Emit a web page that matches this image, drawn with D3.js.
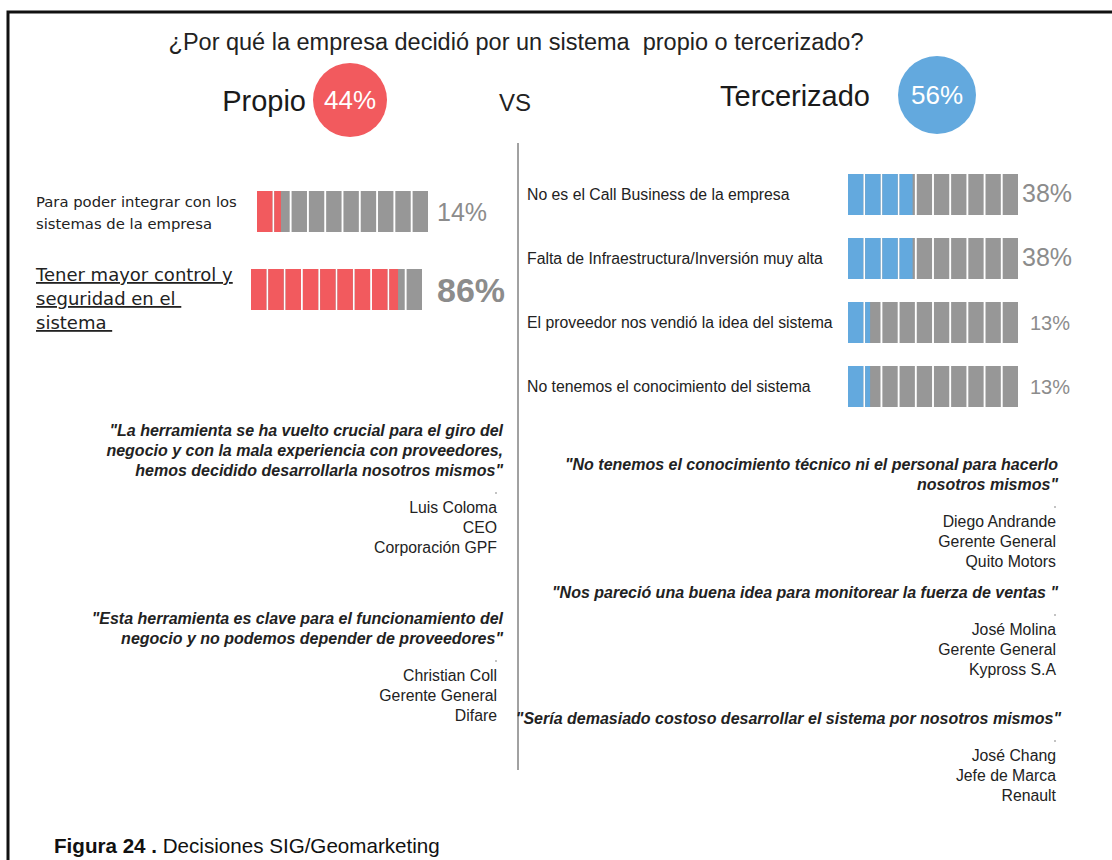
<!DOCTYPE html>
<html>
<head>
<meta charset="utf-8">
<script src="https://cdn.jsdelivr.net/npm/d3@7"></script>
<style>
  html, body { margin: 0; padding: 0; background: #fff; }
  svg { display: block; }
</style>
</head>
<body>
<svg id="chart" width="1112" height="860"></svg>
<script>
// ---- data ----
const titleText = "¿Por qué la empresa decidió por un sistema  propio o tercerizado?";
const sideNames = ["Propio", "Tercerizado"];
const sideShares = [44, 56];

const propioReasons = [
  ["Para poder integrar con los", "sistemas de la empresa"],
  ["Tener mayor control y", "seguridad en el ", "sistema "]
];
const propioValues = [14, 86];

const tercerReasons = [
  "No es el Call Business de la empresa",
  "Falta de Infraestructura/Inversión muy alta",
  "El proveedor nos vendió la idea del sistema",
  "No tenemos el conocimiento del sistema"
];
const tercerValues = [38, 38, 13, 13];

const segmentCount = 10;

const propioQuotes = [
  { lines: ["\"La herramienta se ha vuelto crucial para el giro del",
            "negocio y con la mala experiencia con proveedores,",
            "hemos decidido desarrollarla nosotros mismos\""],
    person: ["Luis Coloma", "CEO", "Corporación GPF"] },
  { lines: ["\"Esta herramienta es clave para el funcionamiento del",
            "negocio y no podemos depender de proveedores\""],
    person: ["Christian Coll", "Gerente General", "Difare"] }
];
const tercerQuotes = [
  { lines: ["\"No tenemos el conocimiento técnico ni el personal para hacerlo",
            "nosotros mismos\""],
    person: ["Diego Andrande", "Gerente General", "Quito Motors"] },
  { lines: ["\"Nos pareció una buena idea para monitorear la fuerza de ventas \""],
    person: ["José Molina", "Gerente General", "Kypross S.A"] },
  { lines: ["\"Sería demasiado costoso desarrollar el sistema por nosotros mismos\""],
    person: ["José Chang", "Jefe de Marca", "Renault"] }
];

const captionBold = "Figura 24 .";
const captionText = " Decisiones SIG/Geomarketing";

// ---- styles ----
const RED = "#f25a5e";
const BLUE = "#63a9de";
const GRAY = "#979797";
const PCT_GRAY = "#8c8c8c";
const SANS = "'Liberation Sans', Arial, Helvetica, sans-serif";
const WIDE = "'DejaVu Sans', Verdana, sans-serif";

const svg = d3.select("#chart");

// frame (open to the right and bottom)
svg.append("path")
  .attr("d", "M8,860 V12 H1112")
  .attr("fill", "none").attr("stroke", "#111").attr("stroke-width", 3);

// title
svg.append("text")
  .attr("x", 516).attr("y", 50)
  .attr("text-anchor", "middle")
  .attr("font-family", SANS).attr("font-size", 23.5).attr("fill", "#222")
  .style("white-space", "pre")
  .text(titleText);

// headline: side names with share bubbles
const heads = [
  { name: sideNames[0], share: sideShares[0], color: RED, nameEnd: 306, cx: 350, cy: 100, r: 37, size: 29 },
  { name: sideNames[1], share: sideShares[1], color: BLUE, nameEnd: 870, cx: 937, cy: 95, r: 39, size: 29 }
];
heads.forEach(h => {
  svg.append("text")
    .attr("x", h.nameEnd).attr("y", h.cy + 11)
    .attr("text-anchor", "end")
    .attr("font-family", SANS).attr("font-size", h.size).attr("fill", "#1a1a1a")
    .text(h.name);
  svg.append("circle")
    .attr("cx", h.cx).attr("cy", h.cy).attr("r", h.r)
    .attr("fill", h.color);
  svg.append("text")
    .attr("x", h.cx).attr("y", h.cy + 9)
    .attr("text-anchor", "middle")
    .attr("font-family", SANS).attr("font-size", 26).attr("fill", "#fff")
    .text(h.share + "%");
});
svg.append("text")
  .attr("x", 515).attr("y", 111)
  .attr("text-anchor", "middle")
  .attr("font-family", SANS).attr("font-size", 24).attr("fill", "#222")
  .text("VS");

// divider
svg.append("line")
  .attr("x1", 518).attr("x2", 518).attr("y1", 143).attr("y2", 770)
  .attr("stroke", "#444").attr("stroke-width", 1);

// segmented progress bar
function segmentedBar(g, x0, width, y0, height, value, color) {
  const seg = d3.scaleBand().domain(d3.range(segmentCount)).range([x0, x0 + width]).paddingInner(0.11);
  const fill = d3.scaleLinear().domain([0, 100]).range([x0, x0 + width]);
  const fx = fill(value);
  const segs = g.selectAll(null).data(d3.range(segmentCount)).enter();
  segs.append("rect")
    .attr("x", i => seg(i)).attr("y", y0)
    .attr("width", seg.bandwidth()).attr("height", height)
    .attr("fill", GRAY);
  segs.append("rect")
    .attr("x", i => seg(i)).attr("y", y0)
    .attr("width", i => Math.max(0, Math.min(seg.bandwidth(), fx - seg(i))))
    .attr("height", height)
    .attr("fill", color);
}

// left panel: Propio reasons
const leftRows = d3.scalePoint().domain(d3.range(propioValues.length)).range([191, 269]);
const leftBarH = 41;
const leftLabelSize = [14.8, 18];
const leftPctSize = [25, 34];
const leftPctWeight = ["normal", "bold"];
propioValues.forEach((v, i) => {
  const g = svg.append("g");
  const top = leftRows(i);
  segmentedBar(g, i === 0 ? 257 : 251, 171, top, leftBarH, v, RED);
  const lines = propioReasons[i];
  const lh = i === 0 ? 22 : 24;
  const startY = i === 0 ? top + 16 : top + 12;
  lines.forEach((ln, k) => {
    const t = g.append("text")
      .attr("x", 36).attr("y", startY + k * lh)
      .attr("font-family", WIDE).attr("font-size", leftLabelSize[i])
      .attr("fill", "#222")
      .style("white-space", "pre")
      .text(ln);
    if (i === 1) t.attr("text-decoration", "underline");
  });
  g.append("text")
    .attr("x", 437).attr("y", top + leftBarH / 2 + leftPctSize[i] * 0.36)
    .attr("font-family", SANS).attr("font-size", leftPctSize[i])
    .attr("font-weight", leftPctWeight[i])
    .attr("fill", PCT_GRAY)
    .text(v + "%");
});

// right panel: Tercerizado reasons
const rightRows = d3.scalePoint().domain(d3.range(tercerValues.length)).range([174, 366]);
const rightBarH = 41;
const rightPctSize = [25, 25, 20, 20];
tercerValues.forEach((v, i) => {
  const g = svg.append("g");
  const top = rightRows(i);
  segmentedBar(g, 848, 170, top, rightBarH, v, BLUE);
  g.append("text")
    .attr("x", 527).attr("y", top + rightBarH / 2 + 5)
    .attr("font-family", SANS).attr("font-size", 15.8)
    .attr("fill", "#222")
    .text(tercerReasons[i]);
  g.append("text")
    .attr("x", i < 2 ? 1022 : 1030).attr("y", top + rightBarH / 2 + rightPctSize[i] * 0.36 - (i < 2 ? 2 : 0))
    .attr("font-family", SANS).attr("font-size", rightPctSize[i])
    .attr("fill", PCT_GRAY)
    .text(v + "%");
});

// testimonial blocks
function quoteBlock(q, quoteRight, personRight, y) {
  const g = svg.append("g");
  q.lines.forEach((ln, k) => {
    g.append("text")
      .attr("x", quoteRight).attr("y", y + k * 20)
      .attr("text-anchor", "end")
      .attr("font-family", SANS).attr("font-size", 16)
      .attr("font-weight", "bold").attr("font-style", "italic")
      .attr("fill", "#222")
      .style("white-space", "pre")
      .text(ln);
  });
  const py = y + (q.lines.length - 1) * 20;
  g.append("circle")
    .attr("cx", personRight - 1).attr("cy", py + 17).attr("r", 0.8)
    .attr("fill", "#777");
  q.person.forEach((p, k) => {
    g.append("text")
      .attr("x", personRight).attr("y", py + 37 + k * 20)
      .attr("text-anchor", "end")
      .attr("font-family", SANS).attr("font-size", 15.8)
      .attr("fill", "#222")
      .text(p);
  });
}
quoteBlock(propioQuotes[0], 503, 497, 436);
quoteBlock(propioQuotes[1], 503, 497, 624);
quoteBlock(tercerQuotes[0], 1058, 1056, 470);
quoteBlock(tercerQuotes[1], 1058, 1056, 598);
quoteBlock(tercerQuotes[2], 1061, 1056, 724);

// caption
const cap = svg.append("text")
  .attr("x", 54).attr("y", 853)
  .attr("font-family", SANS).attr("font-size", 20.6).attr("fill", "#111")
  .style("white-space", "pre");
cap.append("tspan").attr("font-weight", "bold").text(captionBold);
cap.append("tspan").text(captionText);
</script>
</body>
</html>
